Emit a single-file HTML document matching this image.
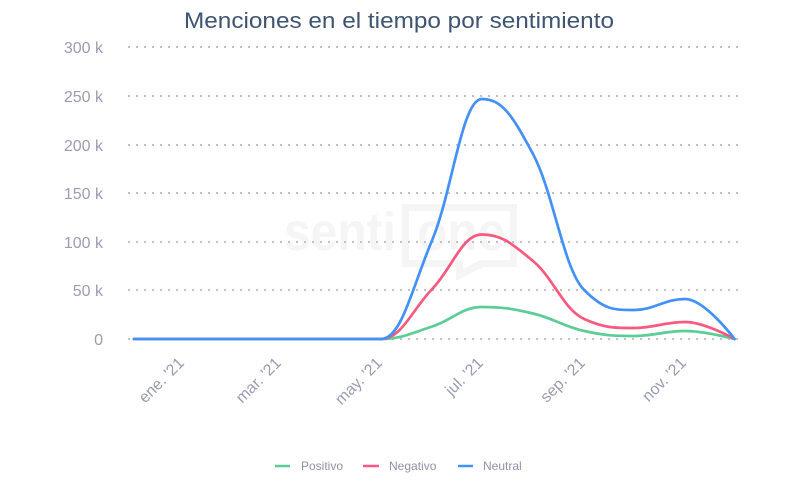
<!DOCTYPE html>
<html>
<head>
<meta charset="utf-8">
<style>
html,body{margin:0;padding:0;background:#fff;}
svg{display:block;}
</style>
</head>
<body>
<svg width="800" height="485" viewBox="0 0 800 485" xmlns="http://www.w3.org/2000/svg" font-family="'Liberation Sans', 'DejaVu Sans', sans-serif">
<rect width="800" height="485" fill="#ffffff"/>

<!-- watermark -->
<g fill="#f5f5f5">
  <text x="284" y="250" font-size="54" font-weight="bold" textLength="112" lengthAdjust="spacingAndGlyphs">senti</text>
  <path fill-rule="evenodd" d="M402 204 H517 V267 H483 L456 281 V267 H402 Z M409 211 V260 H463 V269 L480 260 H510 V211 Z"/>
  <text x="417" y="250" font-size="54" font-weight="bold" textLength="88" lengthAdjust="spacingAndGlyphs">one</text>
</g>

<!-- title -->
<text x="399" y="28" font-size="22" fill="#3f5470" text-anchor="middle" textLength="430" lengthAdjust="spacingAndGlyphs">Menciones en el tiempo por sentimiento</text>

<!-- gridlines -->
<g stroke="#c2c2c2" stroke-width="2" stroke-dasharray="2 6">
  <line x1="128" x2="740" y1="47" y2="47"/>
  <line x1="128" x2="740" y1="96" y2="96"/>
  <line x1="128" x2="740" y1="145" y2="145"/>
  <line x1="128" x2="740" y1="193" y2="193"/>
  <line x1="128" x2="740" y1="242" y2="242"/>
  <line x1="128" x2="740" y1="290" y2="290"/>
  <line x1="128" x2="740" y1="339" y2="339"/>
</g>

<!-- y labels -->
<g font-size="16" fill="#9a9cb0" text-anchor="end">
  <text x="103" y="53">300 k</text>
  <text x="103" y="102">250 k</text>
  <text x="103" y="151">200 k</text>
  <text x="103" y="199">150 k</text>
  <text x="103" y="248">100 k</text>
  <text x="103" y="296">50 k</text>
  <text x="103" y="345">0</text>
</g>

<!-- x labels -->
<g font-size="16" fill="#9a9cb0" text-anchor="end">
  <text x="185" y="364" transform="rotate(-45 185 364)">ene. '21</text>
  <text x="282" y="364" transform="rotate(-45 282 364)">mar. '21</text>
  <text x="383" y="364" transform="rotate(-45 383 364)">may. '21</text>
  <text x="484" y="364" transform="rotate(-45 484 364)">jul. '21</text>
  <text x="586" y="364" transform="rotate(-45 586 364)">sep. '21</text>
  <text x="687" y="364" transform="rotate(-45 687 364)">nov. '21</text>
</g>

<!-- series -->
<g fill="none" stroke-width="2.7" stroke-linecap="round" stroke-linejoin="round">
  <path id="pos" stroke="#5ccd97" d="M134 339 L381 339 L432.2 326.5 L481.8 307 L533 313.5 L584.2 331 L633.7 336 L685 331 L734.5 339"/>
  <path id="neg" stroke="#f7597f" d="M134 339 L381 339 L432.2 289 L481.8 234.5 L533 261 L584.2 319 L633.7 328 L685 322 L734.5 339"/>
  <path id="neu" stroke="#4391f7" d="M134 339 L381 339 L432.2 240 L481.8 99 L533 154 L584.2 290 L633.7 310 L685 299 L734.5 339"/>
</g>

<!-- legend -->
<g font-size="12" fill="#8f91a6">
  <line x1="275" x2="290" y1="466" y2="466" stroke="#5ccd97" stroke-width="2.5"/>
  <text x="301" y="470">Positivo</text>
  <line x1="363" x2="379" y1="466" y2="466" stroke="#f7597f" stroke-width="2.5"/>
  <text x="389" y="470">Negativo</text>
  <line x1="458" x2="473" y1="466" y2="466" stroke="#4391f7" stroke-width="2.5"/>
  <text x="483" y="470">Neutral</text>
</g>
</svg>

<script>
(function(){
  var xs=[134,183,234.2,280.4,331.6,381,432.2,481.8,533,584.2,633.7,685,734.5];
  function spline(ys){
    var n=xs.length, lc=[], rc=[];
    for(var i=0;i<n;i++){
      var lx=xs[i], ly=ys[i], rx=xs[i], ry=ys[i];
      if(i>0 && i<n-1){
        var px=xs[i],py=ys[i],ax=xs[i-1],ay=ys[i-1],bx=xs[i+1],by=ys[i+1];
        lx=(1.5*px+ax)/2.5; ly=(1.5*py+ay)/2.5;
        rx=(1.5*px+bx)/2.5; ry=(1.5*py+by)/2.5;
        if(rx!==lx){var c=((ry-ly)*(rx-px))/(rx-lx)+py-ry; ly+=c; ry+=c;}
        if(ly>ay && ly>py){ly=Math.max(ay,py); ry=2*py-ly;}
        else if(ly<ay && ly<py){ly=Math.min(ay,py); ry=2*py-ly;}
        if(ry>by && ry>py){ry=Math.max(by,py); ly=2*py-ry;}
        else if(ry<by && ry<py){ry=Math.min(by,py); ly=2*py-ry;}
      }
      lc.push([lx,ly]); rc.push([rx,ry]);
    }
    var d='M'+xs[0]+' '+ys[0];
    for(var j=1;j<n;j++){
      d+=' C'+rc[j-1][0].toFixed(2)+' '+rc[j-1][1].toFixed(2)+' '+lc[j][0].toFixed(2)+' '+lc[j][1].toFixed(2)+' '+xs[j]+' '+ys[j];
    }
    return d;
  }
  var z=[339,339,339,339,339,339];
  document.getElementById('pos').setAttribute('d',spline(z.concat([326.5,307,313.5,331,336,331,339])));
  document.getElementById('neg').setAttribute('d',spline(z.concat([289,234.5,261,319,328,322,339])));
  document.getElementById('neu').setAttribute('d',spline(z.concat([240,99,154,290,310,299,339])));
})();
</script>
</body>
</html>
